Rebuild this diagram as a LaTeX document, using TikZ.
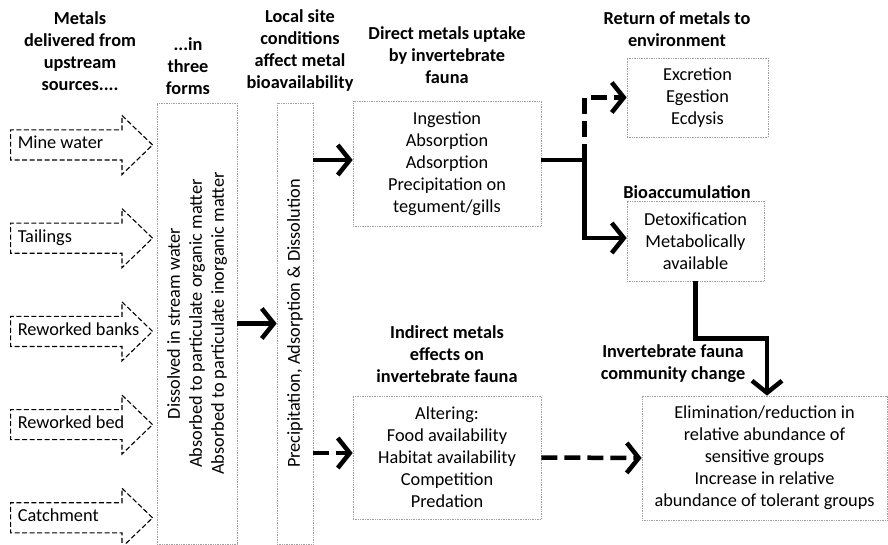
\documentclass[tikz,border=0pt]{standalone}
\usepackage{fontspec}
\setmainfont{Carlito}
\usetikzlibrary{shapes.arrows,arrows.meta,calc,positioning}
\tikzset{
  txt/.style={font=\fontsize{18.3}{22}\selectfont},
  headline/.style={txt, font=\fontsize{18.3}{22}\selectfont\bfseries, align=center, inner sep=0pt},
  infobox/.style={draw=gray!75, densely dotted, line width=0.7pt, inner sep=0pt},
  infotext/.style={txt, align=center, inner sep=0pt},
  source/.style={txt, single arrow, draw=black, dash pattern=on 5pt off 2.5pt, line width=1.1pt,
    single arrow head extend=14.5pt, single arrow tip angle=88, anchor=west,
    minimum height=142pt, inner xsep=8pt, inner ysep=6pt, text height=12.5pt, text depth=4.5pt},
  flow/.style={line width=4.5pt, -{Straight Barb[length=12pt,width=30pt]}},
  flowdash/.style={flow, dash pattern=on 16pt off 7pt},
}
\def\SrcStep{93.2}
\begin{document}
\begin{tikzpicture}[x=1pt,y=-1pt]
  \useasboundingbox (0,0) rectangle (888,545);
  % headers
  \node[headline] (hsrc) at (80,51) {Metals\\delivered from\\upstream\\sources....};
  \node[headline] (hforms) at (188,66) {...in\\three\\forms};
  \node[headline] (hsite) at (300,51) {Local site\\conditions\\affect metal\\bioavailability};
  \node[headline] (hdirect) at (447,55) {Direct metals uptake\\by invertebrate\\fauna};
  \node[headline] (hreturn) at (677,29) {Return of metals to\\environment};
  \node[headline] (hbioacc) at (687,192) {Bioaccumulation};
  \node[headline] (hindirect) at (447,354) {Indirect metals\\effects on\\invertebrate fauna};
  \node[headline] (hcomm) at (673,364) {Invertebrate fauna\\community change};
  % sources
  \foreach \name/\label [count=\i from 0] in {mine/Mine water, tail/Tailings, banks/Reworked banks, bed/Reworked bed, catch/Catchment}
    \node[source] (\name) at (10,{145+\i*\SrcStep}) {\makebox[96pt][l]{\hspace*{-8pt}\label}};
  % boxes
  \node[infobox, minimum width=80pt, minimum height=441pt] (forms) at (197,323.5) {};
  \node[infotext, rotate=90] (formstext) at (forms.center)
    {Dissolved in stream water\\Absorbed to particulate organic matter\\Absorbed to particulate inorganic matter};
  \node[infobox, minimum width=36pt, minimum height=441pt] (site) at (295,323.5) {};
  \node[infotext, rotate=90] (sitetext) at (site.center) {Precipitation, Adsorption \& Dissolution};
  \node[infobox, infotext, minimum width=188pt, minimum height=125pt] (direct) at (447,163.5)
    {Ingestion\\Absorption\\Adsorption\\Precipitation on\\tegument/gills};
  \node[infobox, infotext, minimum width=141pt, minimum height=79pt] (return) at (697.5,97.5)
    {Excretion\\Egestion\\Ecdysis};
  \node[infobox, infotext, minimum width=137pt, minimum height=80pt] (bioacc) at (695.5,241)
    {Detoxification\\Metabolically\\available};
  \node[infobox, infotext, minimum width=188pt, minimum height=123pt] (indirect) at (447,457.5)
    {Altering:\\Food availability\\Habitat availability\\Competition\\Predation};
  \node[infobox, infotext, minimum width=245pt, minimum height=124pt] (comm) at (764.5,458)
    {Elimination/reduction in\\relative abundance of\\sensitive groups\\Increase in relative\\abundance of tolerant groups};
  % connectors
  \coordinate (split) at ($(direct.east)+(43,-3.5)$);
  \coordinate (bend) at ($(bioacc.south)+(0,57)$);
  \draw[flow] (forms.east) -- (site.west);
  \draw[flow] ($(site.east |- direct.west)+(0,-3.5)$) -- ($(direct.west)+(0,-3.5)$);
  \draw[flowdash] ($(site.east |- indirect.west)+(0,-4.5)$) -- ($(indirect.west)+(0,-4.5)$);
  \draw[line width=4.5pt] ($(direct.east)+(0,-3.5)$) -- (split);
  \draw[flow] (split) -- ($(split |- bioacc.west)+(0,-3)$) -- ($(bioacc.west)+(0,-3)$);
  \draw[flowdash] (split) -- (split |- return.west) -- (return.west);
  \draw[flow] (bioacc.south) -- (bend) -| ($(comm.north)+(2.5,0)$);
  \draw[flowdash] (indirect.east) -- (comm.west);
\end{tikzpicture}
\end{document}
